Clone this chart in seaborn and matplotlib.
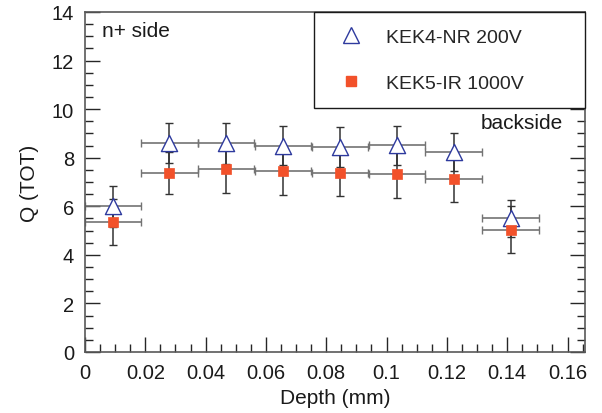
import numpy as np
import pandas as pd
import seaborn as sns
import matplotlib.pyplot as plt
from matplotlib.lines import Line2D
from matplotlib.ticker import MultipleLocator

# measured charge vs depth
depth = [0.0092, 0.0280, 0.0468, 0.0657, 0.0846, 0.1035, 0.1223, 0.1412]
depth_err = [0.0093, 0.0094, 0.0094, 0.0094, 0.0094, 0.0094, 0.0094, 0.0094]
q_kek4 = [6.0, 8.6, 8.6, 8.5, 8.45, 8.52, 8.22, 5.5]
q_kek4_err = [0.85, 0.82, 0.85, 0.82, 0.82, 0.8, 0.78, 0.75]
q_kek5 = [5.34, 7.37, 7.55, 7.46, 7.38, 7.33, 7.12, 5.03]
q_kek5_err = [0.95, 0.85, 1.0, 0.98, 0.97, 0.98, 0.96, 0.97]
labels = ["KEK4-NR 200V", "KEK5-IR 1000V"]

blue = "#2e3a9e"
orange = "#f2512a"

sns.set_theme(style="ticks")
plt.rcParams["font.family"] = ["Liberation Sans", "DejaVu Sans"]

df = pd.DataFrame({
    "depth": depth * 2,
    "Q": q_kek4 + q_kek5,
    "sample": [labels[0]] * 8 + [labels[1]] * 8,
})

fig = plt.figure(figsize=(6.02, 4.14), dpi=100)
ax = fig.add_axes([85 / 602, 61 / 414, 500 / 602, 340 / 414])

# horizontal (bin width) and vertical error bars
for q, qe in [(q_kek4, q_kek4_err), (q_kek5, q_kek5_err)]:
    ax.errorbar(depth, q, xerr=depth_err, fmt="none", ecolor="0.45",
                elinewidth=1.2, capsize=3, capthick=1, zorder=1)
    ax.errorbar(depth, q, yerr=qe, fmt="none", ecolor="0.2",
                elinewidth=1.1, capsize=3, capthick=1, zorder=2)

sns.scatterplot(data=df[df["sample"] == labels[0]], x="depth", y="Q", ax=ax,
                marker="^", s=135, facecolor="white", edgecolor=blue,
                linewidth=1.0, zorder=3, legend=False)
sns.scatterplot(data=df[df["sample"] == labels[1]], x="depth", y="Q", ax=ax,
                marker="s", s=55, color=orange, edgecolor=orange,
                linewidth=0.5, zorder=4, legend=False)

ax.set_xlim(0, 0.1658)
ax.set_ylim(0, 14)
ax.set_xticks(np.arange(0, 0.161, 0.02))
ax.set_xticklabels(["0", "0.02", "0.04", "0.06", "0.08", "0.1", "0.12", "0.14", "0.16"])
ax.set_yticks(np.arange(0, 15, 2))
ax.xaxis.set_minor_locator(MultipleLocator(0.005))
ax.yaxis.set_minor_locator(MultipleLocator(0.5))
ax.tick_params(which="both", direction="in", top=False, right=True, colors="0.15",
               labelcolor="0.1", labelsize=14.5, width=1)
ax.tick_params(which="major", length=11, pad=8)
ax.tick_params(which="minor", length=5.5)
for s in ax.spines.values():
    s.set_color("0.35")
    s.set_linewidth(1.2)

ax.set_xlabel("Depth (mm)", fontsize=15, color="0.1", labelpad=4)
ax.set_ylabel("Q (TOT)", fontsize=15, color="0.1", labelpad=9)

ax.text((102 - 85) / 500, (353 - 37) / 340, "n+ side", transform=ax.transAxes,
        fontsize=15, va="baseline", color="0.1")
ax.text((481 - 85) / 500, (353 - 129) / 340, "backside", transform=ax.transAxes,
        fontsize=15, va="baseline", color="0.1")

handles = [
    Line2D([], [], marker="^", ls="none", ms=11.5, mfc="white", mec=blue, mew=1),
    Line2D([], [], marker="s", ls="none", ms=7.4, mfc=orange, mec=orange),
]
leg = ax.legend(handles, labels, loc="upper right",
                bbox_to_anchor=((314 - 85) / 500, 0, (585 - 314) / 500, 1),
                mode="expand", fontsize=14, frameon=True, fancybox=False,
                shadow=False, borderpad=0.85, labelspacing=1.45,
                handletextpad=0.75, borderaxespad=0, handlelength=2.1)
leg.get_frame().set_edgecolor("0.1")
leg.get_frame().set_linewidth(1)
leg.get_frame().set_alpha(1)

fig.savefig("out.png", dpi=100)
